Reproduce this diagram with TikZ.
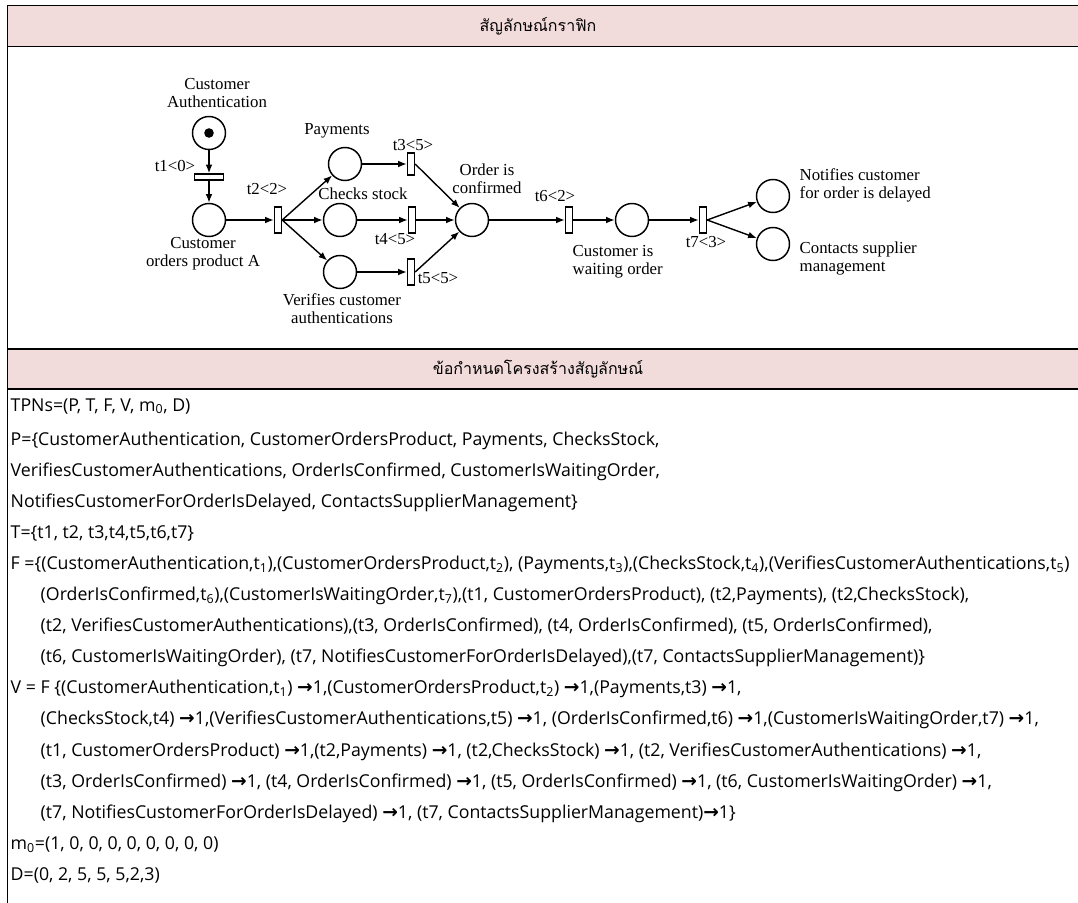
\documentclass[tikz,border=0pt]{standalone}
\usepackage{fontspec}
\setmainfont{Open Sans}
\newfontfamily\thaifont[Script=Thai]{Loma}
\newfontfamily\netfont{Liberation Serif}
\newfontfamily\arrowfont{DejaVu Sans}
\usetikzlibrary{arrows.meta}
\definecolor{headpink}{HTML}{F2DCDB}
\newcommand\goesto{{\arrowfont\bfseries\fontsize{14pt}{14pt}\selectfont →}}

\begin{document}
\begin{tikzpicture}[x=0.75pt, y=-0.75pt,
    place/.style = {draw, circle, line width=1.1pt, minimum size=24.75pt, inner sep=0pt},
    tbar/.style = {draw, rectangle, line width=1pt, minimum width=5.25pt, minimum height=19.5pt, inner sep=0pt},
    hbar/.style = {tbar, minimum width=21.75pt, minimum height=4.5pt},
    lbl/.style = {font=\netfont\fontsize{12.6pt}{13.5pt}\selectfont, inner sep=0pt, align=center},
    row/.style = {anchor=base west, inner sep=0pt, font=\fontsize{13.3pt}{15pt}\selectfont},
    head/.style = {font=\thaifont\fontsize{12pt}{14pt}\selectfont},
    >={Latex[length=6.5pt,width=5pt]}, line width=1.05pt]
  \useasboundingbox (0,0) rectangle (1078,903);

  % table frame
  \fill[headpink] (7.5,5.5) rectangle (1078,46.5);
  \fill[headpink] (7.5,349) rectangle (1078,389);
  \draw[line width=1.1pt] (1078,5.5) -- (7.5,5.5) -- (7.5,903);
  \draw[line width=1.1pt] (7.5,46.5) -- (1078,46.5);
  \draw[line width=1.1pt] (7.5,349) -- (1078,349);
  \draw[line width=1.1pt] (7.5,389) -- (1078,389);
  \node[head] (h1) at (538,26) {สัญลักษณ์กราฟิก};
  \node[head] (h2) at (538,369) {ข้อกำหนดโครงสร้างสัญลักษณ์};

  % places and transitions
  \node[place] (p1) at (209,133) {};
  \fill (p1.center) circle (3.6pt);
  \node[hbar] (t1) at (209,177) {};
  \node[place] (p2) at (209,220) {};
  \node[tbar] (t2) at (278,220) {};
  \node[place] (p3) at (345,164) {};
  \node[place] (p4) at (340,220) {};
  \node[place] (p5) at (340,272) {};
  \node[tbar, minimum height=16.5pt] (t3) at (411,164) {};
  \node[tbar] (t4) at (412,220) {};
  \node[tbar] (t5) at (411,272) {};
  \node[place] (p6) at (472,220) {};
  \node[tbar] (t6) at (569,220) {};
  \node[place] (p7) at (632,220) {};
  \node[tbar] (t7) at (703,220) {};
  \node[place] (p8) at (773,196) {};
  \node[place] (p9) at (773,244) {};

  % arcs
  \draw[->] (p1) -- (t1);
  \draw[->] (t1) -- (p2);
  \draw[->] (p2) -- (t2);
  \draw[->] (t2.east) -- (p3);
  \draw[->] (t2) -- (p4);
  \draw[->] (t2.east) -- (p5);
  \draw[->] (p3) -- (t3);
  \draw[->] (p4) -- (t4);
  \draw[->] (p5) -- (t5);
  \draw[->] (t3.east) -- (p6);
  \draw[->] (t4) -- (p6);
  \draw[->] (t5.east) -- (p6);
  \draw[->] (p6) -- (t6);
  \draw[->] (t6) -- (p7);
  \draw[->] (p7) -- (t7);
  \draw[->] (t7.east) -- (p8);
  \draw[->] (t7.east) -- (p9);

  % labels
  \node[lbl] (lp1) at (217,93) {Customer\\Authentication};
  \node[lbl] (lt1) at (175,166) {t1<0>};
  \node[lbl] (lp2) at (203,254) {Customer\\orders product A};
  \node[lbl] (lt2) at (267,189) {t2<2>};
  \node[lbl] (lp3) at (337,131) {Payments};
  \node[lbl] (lp4) at (363,194) {Checks stock};
  \node[lbl] (lp5) at (342,309) {Verifies customer\\authentications};
  \node[lbl] (lt3) at (413,145) {t3<5>};
  \node[lbl] (lt4) at (395,239) {t4<5>};
  \node[lbl] (lt5) at (438,278) {t5<5>};
  \node[lbl] (lp6) at (487,179) {Order is\\confirmed};
  \node[lbl] (lt6) at (555,196) {t6<2>};
  \node[lbl, align=left, anchor=west] (lp7) at (572,262) {Customer is\\waiting order};
  \node[lbl] (lt7) at (706,242) {t7<3>};
  \node[lbl, align=left, anchor=west] (lp8) at (799,185) {Notifies customer\\for order is delayed};
  \node[lbl, align=left, anchor=west] (lp9) at (799,258) {Contacts supplier\\management};

  % structure definition
  \node[row] (r1) at (10,411) {TPNs=(P, T, F, V, m\textsubscript{0}, D)};
  \node[row] (r2) at (10,445) {P=\{CustomerAuthentication, CustomerOrdersProduct, Payments, ChecksStock,};
  \node[row] (r3) at (10,476.1) {VerifiesCustomerAuthentications, OrderIsConfirmed, CustomerIsWaitingOrder,};
  \node[row] (r4) at (10,507.2) {NotifiesCustomerForOrderIsDelayed, ContactsSupplierManagement\}};
  \node[row] (r5) at (10,538.3) {T=\{t1, t2, t3,t4,t5,t6,t7\}};
  \node[row] (r6) at (10,569.4) {F =\{(CustomerAuthentication,t\textsubscript{1}),(CustomerOrdersProduct,t\textsubscript{2}), (Payments,t\textsubscript{3}),(ChecksStock,t\textsubscript{4}),(VerifiesCustomerAuthentications,t\textsubscript{5})};
  \node[row] (r7) at (40,600.5) {(OrderIsConfirmed,t\textsubscript{6}),(CustomerIsWaitingOrder,t\textsubscript{7}),(t1, CustomerOrdersProduct), (t2,Payments), (t2,ChecksStock),};
  \node[row] (r8) at (40,631.6) {(t2, VerifiesCustomerAuthentications),(t3, OrderIsConfirmed), (t4, OrderIsConfirmed), (t5, OrderIsConfirmed),};
  \node[row] (r9) at (40,662.7) {(t6, CustomerIsWaitingOrder), (t7, NotifiesCustomerForOrderIsDelayed),(t7, ContactsSupplierManagement)\}};
  \node[row] (r10) at (10,693.8) {V = F \{(CustomerAuthentication,t\textsubscript{1}) \goesto1,(CustomerOrdersProduct,t\textsubscript{2}) \goesto1,(Payments,t3) \goesto1,};
  \node[row] (r11) at (40,724.9) {(ChecksStock,t4) \goesto1,(VerifiesCustomerAuthentications,t5) \goesto1, (OrderIsConfirmed,t6) \goesto1,(CustomerIsWaitingOrder,t7) \goesto1,};
  \node[row] (r12) at (40,756) {(t1, CustomerOrdersProduct) \goesto1,(t2,Payments) \goesto1, (t2,ChecksStock) \goesto1, (t2, VerifiesCustomerAuthentications) \goesto1,};
  \node[row] (r13) at (40,787.1) {(t3, OrderIsConfirmed) \goesto1, (t4, OrderIsConfirmed) \goesto1, (t5, OrderIsConfirmed) \goesto1, (t6, CustomerIsWaitingOrder) \goesto1,};
  \node[row] (r14) at (40,818.2) {(t7, NotifiesCustomerForOrderIsDelayed) \goesto1, (t7, ContactsSupplierManagement)\goesto1\}};
  \node[row] (r15) at (10,849.3) {m\textsubscript{0}=(1, 0, 0, 0, 0, 0, 0, 0, 0)};
  \node[row] (r16) at (10,880.4) {D=(0, 2, 5, 5, 5,2,3)};
\end{tikzpicture}
\end{document}
